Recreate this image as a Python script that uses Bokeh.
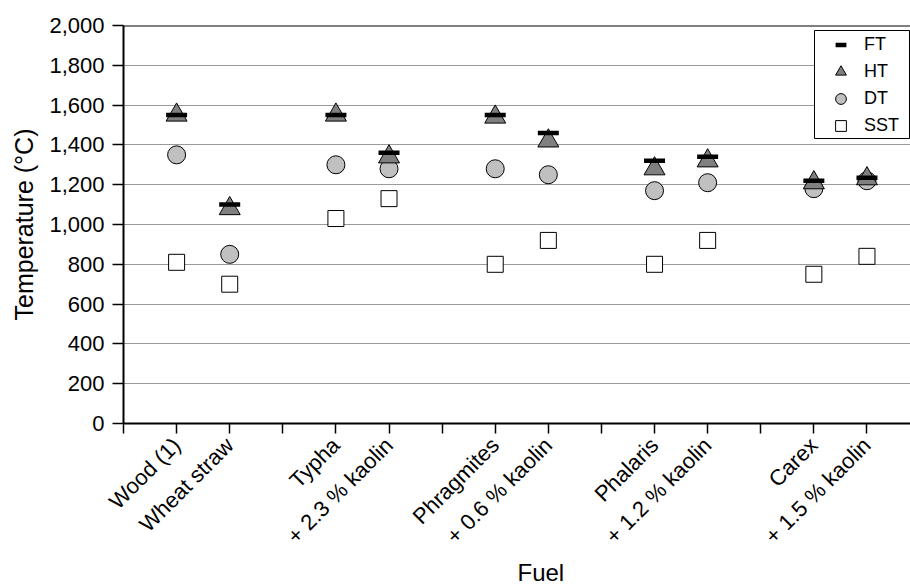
from math import pi
from bokeh.plotting import figure
from bokeh.models import (Range1d, FixedTicker, NumeralTickFormatter, Span, Title,
                          Legend, LegendItem, BoxAnnotation)
from bokeh.embed import file_html
from bokeh.resources import INLINE

# ---------------- data ----------------
fuels = ["Wood (1)", "Wheat straw", "Typha", "+ 2.3 % kaolin", "Phragmites",
         "+ 0.6 % kaolin", "Phalaris", "+ 1.2 % kaolin", "Carex", "+ 1.5 % kaolin"]
ft = [1550, 1100, 1550, 1360, 1550, 1460, 1320, 1340, 1220, 1235]
ht = [1550, 1080, 1550, 1340, 1540, 1420, 1280, 1320, 1210, 1230]
dt = [1350, 850, 1300, 1280, 1280, 1250, 1170, 1210, 1180, 1220]
sst = [810, 700, 1030, 1130, 800, 920, 800, 920, 750, 840]
y_ticks = [0, 200, 400, 600, 800, 1000, 1200, 1400, 1600, 1800, 2000]
series_names = ["FT", "HT", "DT", "SST"]

# category positions: pairs separated by an empty slot
xpos = [i + i // 2 + 1 for i in range(len(fuels))]
x_ticks = list(range(0, xpos[-1] + 1))

FONT = "Liberation Sans"

p = figure(width=910, height=587, output_backend="svg", toolbar_location=None,
           x_range=Range1d(0, 14.82), y_range=Range1d(0, 2000),
           min_border_left=123, min_border_top=25, min_border_bottom=164,
           min_border_right=0)
p.outline_line_color = None
p.background_fill_color = "white"
p.border_fill_color = "white"

# grid
p.xgrid.grid_line_color = None
p.ygrid.grid_line_color = "#9a9a9a"
p.ygrid.grid_line_width = 1
p.ygrid.ticker = FixedTicker(ticks=y_ticks)

# y axis
p.yaxis.ticker = FixedTicker(ticks=y_ticks)
p.yaxis.formatter = NumeralTickFormatter(format="0,0")
p.yaxis.axis_label = "Temperature (°C)"
p.yaxis.axis_label_text_font = FONT
p.yaxis.axis_label_text_font_size = "25px"
p.yaxis.axis_label_text_font_style = "normal"
p.yaxis.axis_label_text_color = "black"
p.yaxis.axis_label_standoff = 8
p.yaxis.major_label_text_font = FONT
p.yaxis.major_label_text_font_size = "22px"
p.yaxis.major_label_standoff = 8
p.yaxis.major_tick_out = 11
p.yaxis.major_tick_in = 0
p.yaxis.minor_tick_line_color = None
p.yaxis.axis_line_width = 2
p.yaxis.major_tick_line_width = 1.5
p.yaxis.axis_line_color = "black"
p.yaxis.major_tick_line_color = "black"
p.yaxis.major_label_text_color = "black"

# x axis
p.xaxis.ticker = FixedTicker(ticks=x_ticks)
overrides = {t: "" for t in x_ticks}
for xp, name in zip(xpos, fuels):
    overrides[xp] = name
p.xaxis.major_label_overrides = overrides
p.xaxis.major_label_orientation = pi / 4
p.xaxis.major_label_text_font = FONT
p.xaxis.major_label_text_font_size = "22px"
p.xaxis.major_label_standoff = 8
p.xaxis.major_tick_out = 10
p.xaxis.major_tick_in = 0
p.xaxis.minor_tick_line_color = None
p.xaxis.axis_line_width = 2
p.xaxis.axis_line_color = "black"
p.xaxis.major_tick_line_width = 1.5
p.xaxis.major_tick_line_color = "black"
p.xaxis.major_label_text_color = "black"

# top border line
p.add_layout(Span(location=2000, dimension="width", line_color="black", line_width=2))

# x axis title
p.add_layout(Title(text="Fuel", align="left", offset=394, text_font=FONT,
                   text_font_size="24px", text_font_style="normal",
                   vertical_align="top",
                   text_color="black", standoff=-3), "below")

# markers
r_sst = p.scatter(xpos, sst, marker="square", size=16, fill_color="white",
                  line_color="black", line_width=1)
r_dt = p.scatter(xpos, dt, marker="circle", size=18, fill_color="#c0c0c0",
                 line_color="black", line_width=1)
r_ht = p.scatter(xpos, ht, marker="triangle", size=21, fill_color="#808080",
                 line_color="black", line_width=1)
r_ft = p.scatter(xpos, ft, marker="dash", size=21, line_color="black", line_width=4.5)

# legend box
p.add_layout(BoxAnnotation(left=691, right=786, top=393, bottom=285,
                           left_units="screen", right_units="screen",
                           top_units="screen", bottom_units="screen",
                           fill_color="white", fill_alpha=1.0,
                           line_color="black", line_width=1, line_alpha=1.0))

legend = Legend(items=[LegendItem(label=series_names[0], renderers=[r_ft]),
                       LegendItem(label=series_names[1], renderers=[r_ht]),
                       LegendItem(label=series_names[2], renderers=[r_dt]),
                       LegendItem(label=series_names[3], renderers=[r_sst])],
                location=(704, 284), orientation="vertical",
                glyph_width=27, glyph_height=27, spacing=0, padding=0,
                label_standoff=10, label_text_font=FONT, label_text_font_size="18px",
                label_text_color="black", border_line_color=None,
                background_fill_alpha=0.0, margin=0)
p.add_layout(legend, "center")

open("out.html", "w").write(file_html(p, INLINE))
